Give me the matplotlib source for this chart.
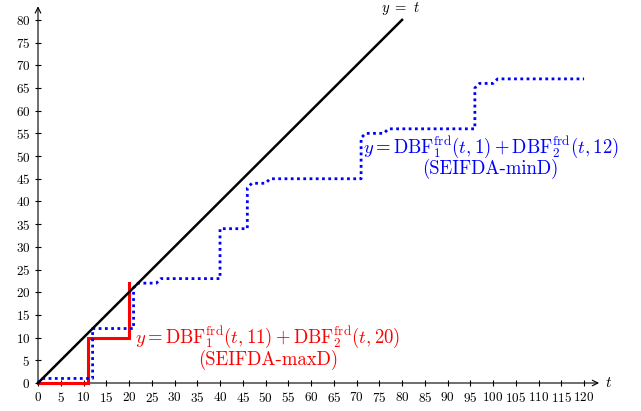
import numpy as np
import matplotlib
matplotlib.use("Agg")
import matplotlib.pyplot as plt

plt.rcParams['font.family'] = 'serif'
plt.rcParams['font.serif'] = ['cmr10']
plt.rcParams['mathtext.fontset'] = 'cm'
plt.rcParams['axes.formatter.use_mathtext'] = True

# identity line y = t
line_t = [0, 80]
line_y = [0, 80]

# SEIFDA-minD step curve
min_t = [0, 1, 12, 12, 21, 21, 22, 26, 27, 40, 40, 46, 46, 47, 50, 51,
         71, 71, 72, 76, 77, 96, 96, 97, 100, 101, 120]
min_y = [0, 1, 1, 12, 12, 21, 22, 22, 23, 23, 34, 34, 43, 44, 44, 45,
         45, 54, 55, 55, 56, 56, 65, 66, 66, 67, 67]

# SEIFDA-maxD step curve
max_t = [0, 11, 11, 20, 20]
max_y = [0, 0, 10, 10, 22]

x_ticks = np.arange(0, 121, 5)
y_ticks = np.arange(0, 81, 5)

fig = plt.figure(figsize=(6.41, 4.11), dpi=100)
ax = fig.add_axes([38/641, 28/411, 562/641, 379/411])
ax.set_xlim(0, 123.5)
ax.set_ylim(0, 83.5)
for s in ax.spines.values():
    s.set_visible(False)

# axis lines with arrow heads
ax.annotate('', xy=(123.3, 0), xytext=(0, 0), annotation_clip=False,
            arrowprops=dict(arrowstyle='->', lw=0.8, color='black', shrinkA=0, shrinkB=0))
ax.annotate('', xy=(0, 83), xytext=(0, 0), annotation_clip=False,
            arrowprops=dict(arrowstyle='->', lw=0.8, color='black', shrinkA=0, shrinkB=0))

ax.set_xticks(x_ticks)
ax.set_yticks(y_ticks)
ax.tick_params(direction='inout', length=5, width=0.8, labelsize=9.5, pad=3)

ax.plot(max_t, max_y, color='red', lw=2.2, solid_joinstyle='miter', clip_on=False, zorder=3)
ax.plot(min_t, min_y, color='blue', lw=2.0, linestyle=(0, (1, 1.25)),
        dash_capstyle='butt', clip_on=False, zorder=4)
ax.plot(line_t, line_y, color='black', lw=1.8, clip_on=False, zorder=5)

ax.text(124.6, 0, '$t$', fontsize=11, ha='left', va='center')
ax.text(79.6, 81.7, '$y\\ =\\ t$', fontsize=10.5, ha='center', va='baseline')

ax.text(50.5, 7.9, '$y = \\mathrm{DBF}_1^{\\mathrm{frd}}(t, 11) + \\mathrm{DBF}_2^{\\mathrm{frd}}(t, 20)$\n(SEIFDA-maxD)',
        color='red', fontsize=13.5, ha='center', va='center', multialignment='center',
        linespacing=0.95)
ax.text(99.5, 49.8, '$y = \\mathrm{DBF}_1^{\\mathrm{frd}}(t, 1) + \\mathrm{DBF}_2^{\\mathrm{frd}}(t, 12)$\n(SEIFDA-minD)',
        color='blue', fontsize=13.5, ha='center', va='center', multialignment='center',
        linespacing=0.95)

fig.savefig('out.png', dpi=100)
